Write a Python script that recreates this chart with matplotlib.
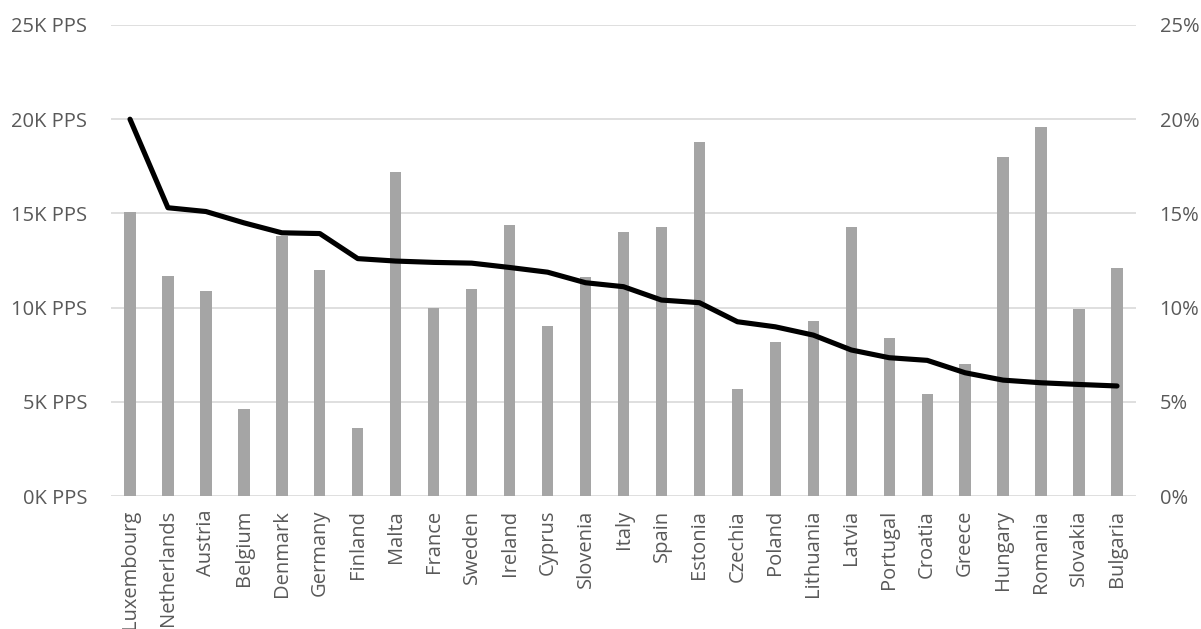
import matplotlib.pyplot as plt
from matplotlib.ticker import FuncFormatter, PercentFormatter

countries = ["Luxembourg", "Netherlands", "Austria", "Belgium", "Denmark", "Germany",
             "Finland", "Malta", "France", "Sweden", "Ireland", "Cyprus", "Slovenia",
             "Italy", "Spain", "Estonia", "Czechia", "Poland", "Lithuania", "Latvia",
             "Portugal", "Croatia", "Greece", "Hungary", "Romania", "Slovakia", "Bulgaria"]

# bars, left axis (PPS)
pps = [15100, 11700, 10900, 4600, 13800, 12000, 3600, 17200, 10000, 11000, 14400,
       9000, 11600, 14000, 14300, 18800, 5700, 8200, 9300, 14300, 8400, 5400, 7000,
       18000, 19600, 9900, 12100]

# line, right axis (%)
pct = [20.0, 15.3, 15.1, 14.5, 13.97, 13.93, 12.6, 12.47, 12.4, 12.36, 12.13, 11.88,
       11.32, 11.11, 10.4, 10.26, 9.25, 8.98, 8.54, 7.75, 7.34, 7.2, 6.54, 6.15, 6.01,
       5.92, 5.84]

plt.rcParams['font.family'] = ['Open Sans', 'DejaVu Sans']
txt = '#595959'
fs = 14.5

fig = plt.figure(figsize=(12.01, 6.29), dpi=100)
ax = fig.add_axes([111 / 1201, 133 / 629, 1025 / 1201, 471 / 629])
x = range(len(countries))

ax.bar(x, pps, width=0.30, color='#A5A5A5', zorder=2)
ax.set_ylim(0, 25000)
ax.set_yticks(range(0, 25001, 5000))
ax.yaxis.set_major_formatter(FuncFormatter(lambda v, p: f"{v / 1000:.0f}K PPS"))
ax.grid(axis='y', color='#D9D9D9', linewidth=1.2, zorder=0)
ax.set_axisbelow(True)
ax.set_xlim(-0.5, len(countries) - 0.5)
ax.set_xticks(list(x))
ax.set_xticklabels(countries, rotation=90, fontsize=fs, color=txt)
ax.tick_params(axis='x', length=0, pad=10)
ax.tick_params(axis='y', length=0, pad=17, labelsize=fs, labelcolor=txt)
for s in ax.spines.values():
    s.set_visible(False)

ax2 = ax.twinx()
ax2.plot(x, [p / 100 for p in pct], color='black', linewidth=3.7,
         solid_capstyle='round', solid_joinstyle='round')
ax2.set_ylim(0, 0.25)
ax2.set_yticks([0, 0.05, 0.10, 0.15, 0.20, 0.25])
ax2.yaxis.set_major_formatter(PercentFormatter(1.0, decimals=0))
ax2.tick_params(axis='y', length=0, pad=17, labelsize=fs, labelcolor=txt)
for s in ax2.spines.values():
    s.set_visible(False)

fig.savefig("out.png", dpi=100)
